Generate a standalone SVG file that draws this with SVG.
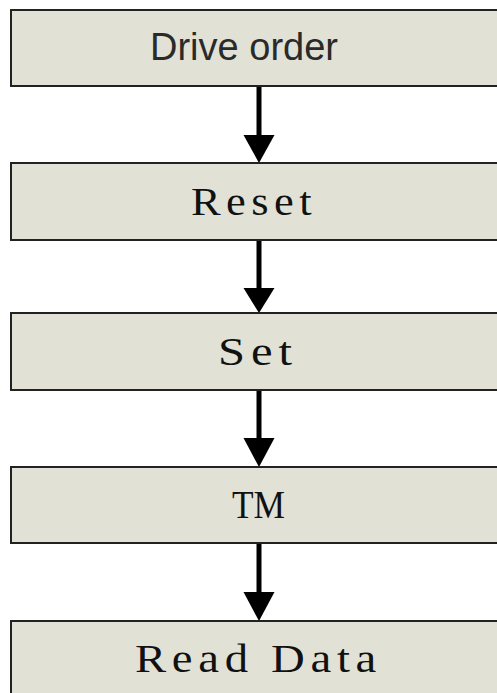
<svg xmlns="http://www.w3.org/2000/svg" width="497" height="693" viewBox="0 0 497 693">
<style>
.box{fill:#e1e2d5;stroke:#222;stroke-width:2}
.sans{font-family:"Liberation Sans",Arial,sans-serif;font-size:38px;fill:#2a2a2a}
.serif{font-family:"Liberation Serif","Times New Roman",serif;font-size:41px;fill:#111;letter-spacing:5px}
.conn{stroke:#000;stroke-width:5;fill:none}
.head{fill:#000}
</style>
<rect width="497" height="693" fill="#fff"/>
<g id="connectors">
<line class="conn" x1="259" y1="86" x2="259" y2="137"/>
<polygon class="head" points="243.5,135 274.5,135 259,163"/>
<line class="conn" x1="259" y1="240" x2="259" y2="290"/>
<polygon class="head" points="243.5,288 274.5,288 259,313"/>
<line class="conn" x1="259" y1="390" x2="259" y2="440"/>
<polygon class="head" points="243.5,438 274.5,438 259,467"/>
<line class="conn" x1="259" y1="543" x2="259" y2="594"/>
<polygon class="head" points="243.5,592 274.5,592 259,621"/>
</g>
<g id="node-drive-order">
<rect class="box" x="11" y="10" width="500" height="76"/>
<text class="sans" x="244" y="60" text-anchor="middle">Drive order</text>
</g>
<g id="node-reset">
<rect class="box" x="11" y="163" width="500" height="77"/>
<text class="serif" x="191" y="215" textLength="126" lengthAdjust="spacingAndGlyphs">Reset</text>
</g>
<g id="node-set">
<rect class="box" x="11" y="313" width="500" height="77"/>
<text class="serif" x="218" y="365" textLength="80" lengthAdjust="spacingAndGlyphs">Set</text>
</g>
<g id="node-tm">
<rect class="box" x="11" y="467" width="500" height="76"/>
<text class="serif" x="232" y="518" textLength="53" lengthAdjust="spacingAndGlyphs" style="letter-spacing:0">TM</text>
</g>
<g id="node-read-data">
<rect class="box" x="11" y="621" width="500" height="77"/>
<text class="serif" x="135" y="672" textLength="247" lengthAdjust="spacingAndGlyphs">Read Data</text>
</g>
</svg>
